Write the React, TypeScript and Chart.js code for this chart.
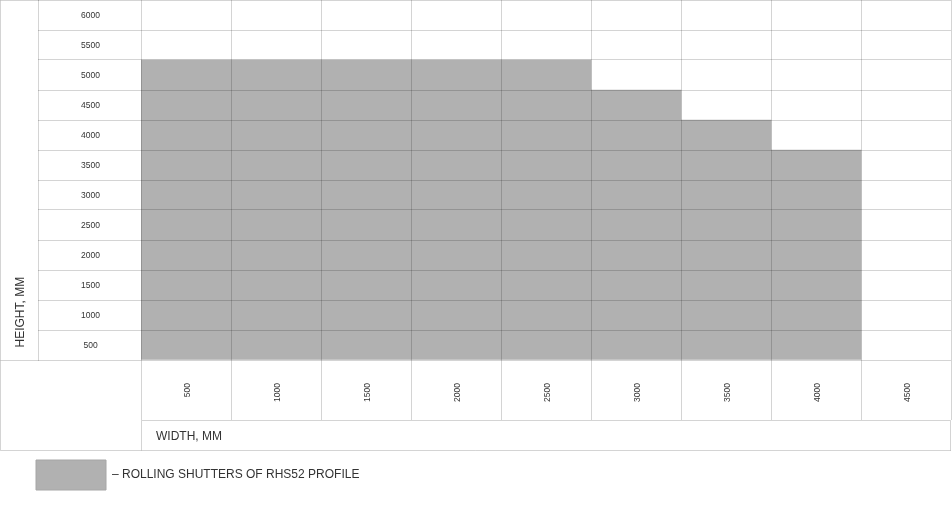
import React, { useEffect, useRef } from "react";
import { Chart, registerables } from "chart.js";

Chart.register(...registerables);

const widthLabels = ["500", "1000", "1500", "2000", "2500", "3000", "3500", "4000", "4500"];
const maxHeights = [5000, 5000, 5000, 5000, 5000, 4500, 4000, 3500, null];
const seriesLabel = "– ROLLING SHUTTERS OF RHS52 PROFILE";
const xTitle = "WIDTH, MM";
const yTitle = "HEIGHT, MM";

const BAR = "#b1b1b1";
const GRID = "rgba(0,0,0,0.17)";
const TEXT = "#333333";
const FONT = "'Liberation Sans', Arial, Helvetica, sans-serif";

const framePlugin = {
  id: "tableFrame",
  afterDraw(chart: any) {
    const { ctx, chartArea } = chart;
    const xs = chart.scales.x;
    const ys = chart.scales.y;
    const L = 0.5;
    const left = Math.round(chartArea.left) + 0.5;
    const right = Math.round(chartArea.right) - 0.5;
    const top = Math.round(chartArea.top) + 0.5;
    const bottom = Math.round(chartArea.bottom) + 0.5;
    const tickRowBottom = Math.round(xs.top + 60) + 0.5;
    const tableBottom = tickRowBottom + 30;
    const titleColRight = Math.round(ys.left + 38) + 0.5;
    ctx.save();
    ctx.strokeStyle = GRID;
    ctx.lineWidth = 1;
    const line = (x1: number, y1: number, x2: number, y2: number) => {
      ctx.beginPath();
      ctx.moveTo(x1, y1);
      ctx.lineTo(x2, y2);
      ctx.stroke();
    };
    // outer frame
    line(L, top, titleColRight, top);
    line(L, 0, L, tableBottom);
    line(L, tableBottom, right + 0.5, tableBottom);
    line(right, tickRowBottom, right, tableBottom);
    // title column separator
    line(titleColRight, 0, titleColRight, bottom);
    // lower-left cell top
    line(L, bottom, titleColRight, bottom);
    // width title row
    line(left, tickRowBottom, right, tickRowBottom);
    line(left, tickRowBottom, left, tableBottom);

    // axis titles
    ctx.fillStyle = TEXT;
    ctx.font = "12px " + FONT;
    ctx.textBaseline = "middle";
    ctx.textAlign = "left";
    ctx.fillText(xTitle, left + 14.5, tableBottom - 14);
    ctx.save();
    ctx.translate(20.5, bottom - 13);
    ctx.rotate(-Math.PI / 2);
    ctx.fillText(yTitle, 0, 0);
    ctx.restore();
    ctx.restore();
  },
};

export default function App() {
  const canvasRef = useRef<HTMLCanvasElement | null>(null);

  useEffect(() => {
    document.body.style.margin = "0";
    const canvas = canvasRef.current;
    if (!canvas) return;
    const chart = new Chart(canvas, {
      type: "bar",
      data: {
        labels: widthLabels,
        datasets: [
          {
            label: seriesLabel,
            data: maxHeights as any,
            backgroundColor: BAR,
            borderWidth: 0,
            barPercentage: 1,
            categoryPercentage: 1,
          },
        ],
      },
      options: {
        responsive: false,
        animation: false,
        devicePixelRatio: 1,
        layout: { padding: { left: 0, right: 1, top: 0, bottom: 26 } },
        plugins: {
          tooltip: { enabled: false },
          legend: {
            position: "bottom",
            align: "start",
            labels: {
              boxWidth: 70,
              boxHeight: 30,
              padding: 36,
              color: TEXT,
              font: { size: 12, family: FONT },
              generateLabels: (ch: any) =>
                ch.data.datasets.map((ds: any, i: number) => ({
                  text: ds.label,
                  fillStyle: BAR,
                  strokeStyle: "#a6a6a6",
                  lineWidth: 1,
                  hidden: false,
                  datasetIndex: i,
                  fontColor: TEXT,
                })),
            },
          },
        },
        scales: {
          x: {
            type: "category",
            z: 1,
            offset: true,
            border: { display: false },
            grid: {
              z: 1,
              offset: true,
              color: GRID,
              tickColor: GRID,
              tickLength: 60,
              drawTicks: true,
            },
            ticks: {
              autoSkip: false,
              minRotation: 90,
              maxRotation: 90,
              padding: -37,
              labelOffset: 1.5,
              color: TEXT,
              font: { size: 8.5, family: FONT },
            },
            afterFit: (s: any) => {
              s.height = 64;
            },
          },
          y: {
            type: "linear",
            z: 1,
            min: 0,
            max: 6000,
            border: { display: false },
            grid: {
              z: 1,
              color: GRID,
              tickColor: GRID,
              tickLength: 103,
              drawTicks: true,
            },
            ticks: {
              stepSize: 500,
              autoSkip: false,
              labelOffset: 16,
              crossAlign: "center",
              padding: -62,
              color: TEXT,
              font: { size: 8.5, family: FONT },
              callback: (v: any) => (Number(v) === 0 ? "" : String(v)),
            },
            afterFit: (s: any) => {
              s.width = 141;
            },
          },
        },
      },
      plugins: [framePlugin],
    });
    return () => chart.destroy();
  }, []);

  return (
    <div style={{ width: 952, height: 526 }}>
      <canvas ref={canvasRef} width={952} height={526} style={{ display: "block" }} />
    </div>
  );
}
